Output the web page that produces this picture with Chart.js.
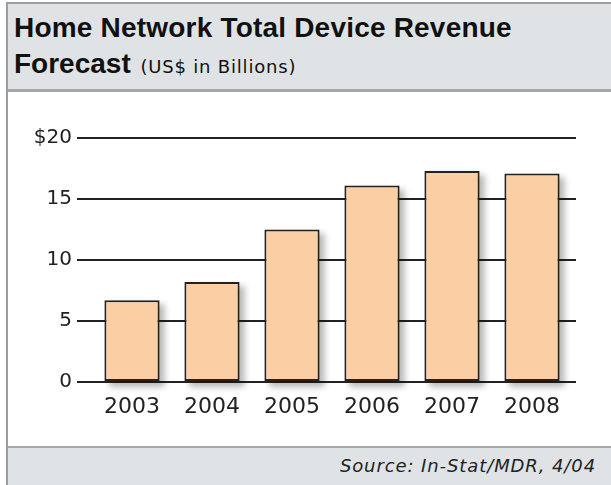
<!DOCTYPE html>
<html>
<head>
<meta charset="utf-8">
<script src="https://cdn.jsdelivr.net/npm/chart.js@4.4.1/dist/chart.umd.min.js"></script>
<style>
  body { margin: 0; background: #ffffff; font-family: "Liberation Sans", Arial, sans-serif; }
  #panel { position: absolute; left: 6px; top: 2px; width: 605px; height: 483px;
           border-left: 2px solid #9b9ea1; border-top: 2px solid #9b9ea1; background: #fff; }
  #head { position: absolute; left: 0; top: 0; width: 100%; height: 85px; background: #e0e3e5;
          border-bottom: 3px solid #a4a7a9; }
  #t1 { position: absolute; left: 6px; top: 8px; font-weight: bold; font-size: 28px; color: #111;
        white-space: nowrap; letter-spacing: 0.2px; }
  #t2 { position: absolute; left: 6px; top: 44px; font-weight: bold; font-size: 28px; color: #111; white-space: nowrap; }
  #t2 span { font-weight: normal; font-size: 18px; font-family: "DejaVu Sans", sans-serif;
             letter-spacing: 0.8px; margin-left: 2px; }
  #foot { position: absolute; left: 0; top: 442px; width: 100%; height: 41px; background: #e0e3e5;
          border-top: 2px solid #a4a7a9; }
  #src { position: absolute; right: 17px; top: 7px; font-style: italic; font-size: 18px; color: #222;
         font-family: "DejaVu Sans", sans-serif; letter-spacing: 0.9px; }
  #wrap { position: absolute; left: 0; top: 91px; width: 603px; height: 353px; }
</style>
</head>
<body>
<div id="panel">
  <div id="head">
    <div id="t1">Home Network Total Device Revenue</div>
    <div id="t2">Forecast <span>(US$ in Billions)</span></div>
  </div>
  <div id="wrap"><canvas id="c" width="603" height="353"></canvas></div>
  <div id="foot"><div id="src">Source: In-Stat/MDR, 4/04</div></div>
</div>
<script>
// data
var years = ["2003", "2004", "2005", "2006", "2007", "2008"];
var revenue = [6.7, 8.2, 12.5, 16.1, 17.3, 17.1];
var yTicks = [0, 5, 10, 15, 20];

// gridlines run a little past the plot on the right; bars get a soft drop shadow
var barLook = {
  id: "barLook",
  beforeDatasetsDraw: function(chart) {
    var ctx = chart.ctx, y = chart.scales.y, a = chart.chartArea;
    ctx.save();
    ctx.strokeStyle = "#222";
    ctx.lineWidth = 2;
    yTicks.forEach(function(v) {
      var py = y.getPixelForValue(v);
      ctx.beginPath();
      ctx.moveTo(a.right - 1, py);
      ctx.lineTo(a.right + 4, py);
      ctx.stroke();
    });
    ctx.restore();

    // shadow boxes taken from the bar elements themselves
    ctx.save();
    ctx.filter = "blur(3px)";
    ctx.fillStyle = "rgba(0,0,0,0.28)";
    chart.getDatasetMeta(0).data.forEach(function(bar) {
      var w = bar.width;
      ctx.fillRect(bar.x - w / 2 + 5, bar.y + 4, w, bar.base - bar.y + 2);
    });
    ctx.restore();
  }
};

new Chart(document.getElementById("c"), {
  type: "bar",
  data: {
    labels: years,
    datasets: [{
      data: revenue,
      backgroundColor: "#fbcfa3",
      borderColor: "#222222",
      borderWidth: 2,
      borderSkipped: false,
      categoryPercentage: 1,
      barPercentage: 0.69
    }]
  },
  options: {
    responsive: false,
    animation: false,
    events: [],
    layout: { padding: { top: 43, right: 39, left: 0, bottom: 0 } },
    plugins: { legend: { display: false }, tooltip: { enabled: false } },
    scales: {
      x: {
        grid: { display: false },
        border: { display: false },
        ticks: { color: "#222", font: { family: "DejaVu Sans", size: 22 }, padding: 4 },
        afterFit: function(s) { s.height = 66; }
      },
      y: {
        min: 0, max: 20,
        afterBuildTicks: function(s) { s.ticks = yTicks.map(function(v) { return { value: v }; }); },
        grid: { color: "#222", lineWidth: 2, tickLength: 15 },
        border: { display: false },
        ticks: {
          color: "#222", padding: 5,
          font: { family: "DejaVu Sans", size: 20 },
          callback: function(v) { return v === 20 ? "$20" : v; }
        },
        afterFit: function(s) { s.width = 84; }
      }
    }
  },
  plugins: [barLook]
});
</script>
</body>
</html>
